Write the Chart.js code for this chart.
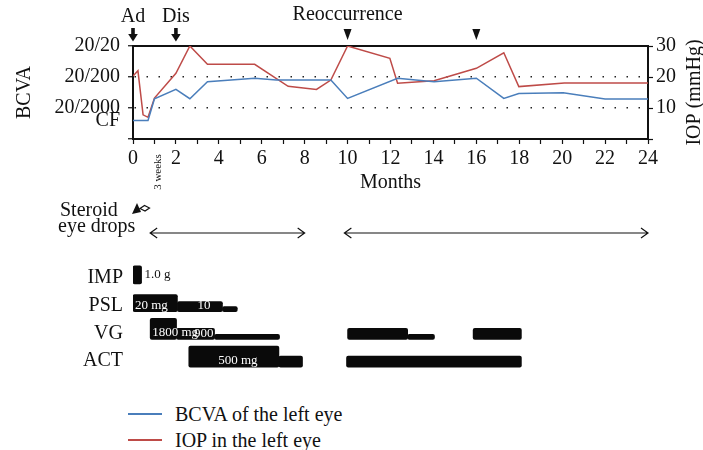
<!DOCTYPE html>
<html>
<head>
<meta charset="utf-8">
<script src="https://cdn.jsdelivr.net/npm/chart.js@4.4.0/dist/chart.umd.min.js"></script>
<style>
  body { margin: 0; background: #fff; width: 703px; height: 450px; position: relative; overflow: hidden; font-family: "Liberation Serif", serif; }
  .box { position: absolute; left: 0; width: 703px; }
  #topBox { top: 0; height: 200px; }
  #drugBox { top: 195px; height: 190px; }
  #legend { position: absolute; left: 128px; top: 401px; font-size: 20px; color: #111; }
  #legend div { height: 26px; display: flex; align-items: center; }
  #legend .line { display: inline-block; width: 34px; height: 2px; margin-right: 13px; }
</style>
</head>
<body>
<div class="box" id="topBox"><canvas id="course"></canvas></div>
<div class="box" id="drugBox"><canvas id="drugs"></canvas></div>
<div id="legend"></div>
<script>
// course after admission (months)
var bcvaMonths = [0, 0.7, 1.0, 2.0, 2.65, 3.47, 5.67, 6.68, 9.22, 10.0, 12.33, 14.03, 16.0, 17.28, 17.98, 20.05, 22.0, 24];
var bcvaValues = [6, 6, 13, 16, 13, 18.5, 19.6, 19.0, 19.0, 13.1, 19.6, 18.5, 19.6, 13.1, 14.7, 14.9, 12.9, 12.9];
var iopMonths = [0, 0.23, 0.47, 0.7, 1.0, 2.0, 2.65, 3.47, 5.67, 7.23, 8.55, 9.22, 10.0, 11.97, 12.33, 14.03, 16.0, 17.28, 17.98, 20.1, 24];
var iopValues = [20.3, 22, 7.8, 7.0, 13.2, 21.2, 30, 24.1, 24.1, 17, 16, 19, 30, 26, 18, 18.8, 22.8, 27.8, 16.9, 18.1, 18.1];

// BCVA shares the 0-30 grid of the IOP axis
var bcvaTicks = [6, 10, 20, 30];
var bcvaTickLabels = ['CF', '20/2000', '20/200', '20/20'];

var eventMonths = [0, 2];
var eventLabels = ['Ad', 'Dis'];
var relapseMonths = [10, 16];
var relapseLabel = 'Reoccurrence';
var weeksMonth = 1.1;
var steroidDrops = [[0.8, 8], [9.85, 24]];

// systemic treatment spans (months)
var drugRows = ['IMP', 'PSL', 'VG', 'ACT'];
var imp1g = [[0, 0.4]];
var psl20 = [[0, 2.07]];
var psl10 = [[2.07, 4.17]];
var psl5 = [[4.17, 4.86]];
var vg1800 = [[0.8, 2.03]];
var vg900 = [[2.03, 3.8], [10.0, 12.8], [15.85, 18.1]];
var vg450 = [[3.8, 6.83], [12.8, 14.05]];
var act500 = [[2.6, 6.8]];
var act250 = [[6.8, 7.9], [9.95, 18.1]];

Chart.defaults.font.family = '"Liberation Serif", serif';
Chart.defaults.font.size = 20;
Chart.defaults.color = '#111';

function pts(xs, ys) {
	return xs.map(function(m, i) { return {x: m, y: ys[i]}; });
}
function spans(row, list) {
	return list.map(function(s) { return {x: s, y: row}; });
}

function downArrow(ctx, x) {
	ctx.fillRect(x - 1.8, 28, 3.6, 6);
	ctx.beginPath();
	ctx.moveTo(x - 4.8, 34);
	ctx.lineTo(x + 4.8, 34);
	ctx.lineTo(x, 41.5);
	ctx.closePath();
	ctx.fill();
}

var courseMarks = {
	id: 'courseMarks',
	afterDraw: function(chart) {
		var ctx = chart.ctx, x = chart.scales.x, area = chart.chartArea;
		ctx.save();
		ctx.fillStyle = '#111';
		ctx.font = '20px "Liberation Serif"';
		ctx.textAlign = 'center';
		ctx.textBaseline = 'middle';
		eventMonths.forEach(function(m, i) {
			var px = x.getPixelForValue(m);
			ctx.fillText(eventLabels[i], px, 17);
			downArrow(ctx, px);
		});
		relapseMonths.forEach(function(m, i) {
			var px = x.getPixelForValue(m);
			if (i === 0) ctx.fillText(relapseLabel, px, 15);
			ctx.beginPath();
			ctx.moveTo(px - 4, 29);
			ctx.lineTo(px + 4, 29);
			ctx.lineTo(px, 40);
			ctx.closePath();
			ctx.fill();
		});
		// small rotated note below the axis
		ctx.save();
		ctx.translate(x.getPixelForValue(weeksMonth) + 2, 172);
		ctx.rotate(-Math.PI / 2);
		ctx.font = '11px "Liberation Serif"';
		ctx.fillText('3 weeks', 0, 0);
		ctx.restore();
		// right axis title reads bottom-up
		ctx.save();
		ctx.translate(695, (area.top + area.bottom) / 2);
		ctx.rotate(-Math.PI / 2);
		ctx.fillText('IOP (mmHg)', 0, 0);
		ctx.restore();
		ctx.restore();
	}
};

var course = new Chart(document.getElementById('course'), {
	type: 'line',
	data: {
		datasets: [
			{
				label: 'BCVA of the left eye',
				data: pts(bcvaMonths, bcvaValues),
				yAxisID: 'y',
				borderColor: '#4a7ebb',
				borderWidth: 1.5,
				pointRadius: 0,
				tension: 0
			},
			{
				label: 'IOP in the left eye',
				data: pts(iopMonths, iopValues),
				yAxisID: 'y1',
				borderColor: '#be4b48',
				borderWidth: 1.5,
				pointRadius: 0,
				tension: 0
			}
		]
	},
	options: {
		responsive: true,
		maintainAspectRatio: false,
		animation: false,
		devicePixelRatio: 1,
		layout: { padding: { top: 46, left: 0, right: 0, bottom: 0 } },
		plugins: { legend: { display: false }, tooltip: { enabled: false } },
		scales: {
			x: {
				type: 'linear', min: 0, max: 24, position: 'bottom',
				afterFit: function(s) { s.height = 61; },
				ticks: {
					stepSize: 1, autoSkip: false, maxRotation: 0, padding: 3,
					callback: function(v) { return v % 2 === 0 ? v : ''; }
				},
				grid: { drawOnChartArea: false, tickLength: 5, tickColor: '#111', tickWidth: 1.2 },
				border: { color: '#111', width: 2 },
				title: { display: true, text: 'Months', padding: { top: 0, bottom: 5 } }
			},
			xTop: {
				type: 'linear', min: 0, max: 24, position: 'top',
				afterFit: function(s) { s.height = 0; },
				ticks: { display: false },
				grid: { drawOnChartArea: false, drawTicks: false },
				border: { color: '#111', width: 2 }
			},
			y: {
				position: 'left', min: 0, max: 30,
				afterFit: function(s) { s.width = 133; },
				afterBuildTicks: function(s) {
					s.ticks = [0].concat(bcvaTicks).map(function(v) { return {value: v}; });
				},
				ticks: {
					padding: 8, autoSkip: false,
					callback: function(v) {
						var i = bcvaTicks.indexOf(v);
						return i < 0 ? '' : bcvaTickLabels[i];
					}
				},
				grid: {
					color: function(c) { return (c.tick && (c.tick.value === 10 || c.tick.value === 20)) ? '#222' : 'transparent'; },
					lineWidth: 1.5,
					tickColor: function(c) { return (c.tick && c.tick.value === 6) ? 'transparent' : '#111'; },
					tickWidth: 1.2,
					tickLength: 5
				},
				border: { color: '#111', width: 2, dash: [1.5, 10.5], dashOffset: -0.5 },
				title: { display: true, text: 'BCVA', padding: { top: 13, bottom: 0 } }
			},
			y1: {
				position: 'right', min: 0, max: 30,
				afterFit: function(s) { s.width = 55; },
				ticks: {
					stepSize: 10, padding: 3, autoSkip: false,
					callback: function(v) { return v === 0 ? '' : v; }
				},
				grid: { drawOnChartArea: false, tickLength: 5, tickColor: '#111', tickWidth: 1.2 },
				border: { color: '#111', width: 2 }
			}
		}
	},
	plugins: [courseMarks]
});

// legend under the treatment panel
var legendBox = document.getElementById('legend');
course.data.datasets.forEach(function(ds) {
	var row = document.createElement('div');
	var ln = document.createElement('span');
	ln.className = 'line';
	ln.style.background = ds.borderColor;
	row.appendChild(ln);
	row.appendChild(document.createTextNode(ds.label));
	legendBox.appendChild(row);
});

// bars sit on a common baseline in each row
var bottomAlign = {
	id: 'bottomAlign',
	afterDatasetsUpdate: function(chart) {
		chart.data.datasets.forEach(function(ds, i) {
			chart.getDatasetMeta(i).data.forEach(function(bar) {
				bar.y += (18 - bar.height) / 2;
			});
		});
	}
};

var drugMarks = {
	id: 'drugMarks',
	afterDatasetsDraw: function(chart) {
		var ctx = chart.ctx;
		ctx.save();
		chart.data.datasets.forEach(function(ds, i) {
			if (!ds.note) return;
			var bar = chart.getDatasetMeta(i).data[0];
			var left = Math.min(bar.x, bar.base), right = Math.max(bar.x, bar.base);
			var bottom = bar.y + bar.height / 2;
			ctx.font = '13px "Liberation Serif"';
			if (ds.noteAt === 'after') {
				ctx.fillStyle = '#111';
				ctx.textAlign = 'left';
				ctx.textBaseline = 'middle';
				ctx.fillText(ds.note, right + 3, bar.y);
				return;
			}
			ctx.fillStyle = '#fff';
			ctx.textBaseline = 'alphabetic';
			if (ds.noteAt === 'start') { ctx.textAlign = 'left'; ctx.fillText(ds.note, left + 2, bottom - 3); }
			else if (ds.noteAt === 'end') { ctx.textAlign = 'right'; ctx.fillText(ds.note, right - 1, bottom - 2); }
			else { ctx.textAlign = 'center'; ctx.fillText(ds.note, (left + right) / 2 + 4, bottom - 3); }
		});
		ctx.restore();
	},
	afterDraw: function(chart) {
		var ctx = chart.ctx, x = chart.scales.x;
		ctx.save();
		ctx.fillStyle = '#111';
		ctx.strokeStyle = '#111';
		ctx.font = '20px "Liberation Serif"';
		ctx.textAlign = 'left';
		ctx.textBaseline = 'alphabetic';
		ctx.fillText('Steroid', 60, 21);
		ctx.fillText('eye drops', 58, 37);
		// eye drop bottle
		var x0 = x.getPixelForValue(0);
		ctx.beginPath();
		ctx.moveTo(x0 - 1, 19);
		ctx.lineTo(x0 + 4, 8);
		ctx.lineTo(x0 + 8, 17);
		ctx.closePath();
		ctx.fill();
		ctx.lineWidth = 1.2;
		ctx.beginPath();
		ctx.moveTo(x0 + 7, 13.5);
		ctx.lineTo(x0 + 11.5, 10.5);
		ctx.lineTo(x0 + 16.5, 13);
		ctx.lineTo(x0 + 12, 16);
		ctx.closePath();
		ctx.stroke();
		// double-headed arrows for topical steroid periods
		ctx.lineWidth = 1.2;
		steroidDrops.forEach(function(s) {
			var a = x.getPixelForValue(s[0]), b = x.getPixelForValue(s[1]), y = 38;
			ctx.beginPath();
			ctx.moveTo(a, y); ctx.lineTo(b, y);
			ctx.moveTo(a + 7, y - 5); ctx.lineTo(a, y); ctx.lineTo(a + 7, y + 5);
			ctx.moveTo(b - 7, y - 5); ctx.lineTo(b, y); ctx.lineTo(b - 7, y + 5);
			ctx.stroke();
		});
		ctx.restore();
	}
};

var drugs = new Chart(document.getElementById('drugs'), {
	type: 'bar',
	data: {
		labels: drugRows,
		datasets: [
			{ label: 'IMP 1.0 g', data: spans('IMP', imp1g), barThickness: 18, note: '1.0 g', noteAt: 'after' },
			{ label: 'PSL 20 mg', data: spans('PSL', psl20), barThickness: 17, note: '20 mg', noteAt: 'start' },
			{ label: 'PSL 10 mg', data: spans('PSL', psl10), barThickness: 10, note: '10', noteAt: 'center' },
			{ label: 'PSL 5 mg', data: spans('PSL', psl5), barThickness: 5 },
			{ label: 'VG 1800 mg', data: spans('VG', vg1800), barThickness: 21, note: '1800 mg', noteAt: 'start' },
			{ label: 'VG 900 mg', data: spans('VG', vg900), barThickness: 11, note: '900', noteAt: 'end' },
			{ label: 'VG 450 mg', data: spans('VG', vg450), barThickness: 5 },
			{ label: 'ACT 500 mg', data: spans('ACT', act500), barThickness: 21, note: '500 mg', noteAt: 'center' },
			{ label: 'ACT 250 mg', data: spans('ACT', act250), barThickness: 11 }
		]
	},
	options: {
		indexAxis: 'y',
		responsive: true,
		maintainAspectRatio: false,
		animation: false,
		devicePixelRatio: 1,
		grouped: false,
		backgroundColor: '#0a0a0a',
		borderRadius: 2,
		borderSkipped: false,
		layout: { padding: { top: 66, left: 0, right: 55, bottom: 13 } },
		plugins: { legend: { display: false }, tooltip: { enabled: false } },
		scales: {
			x: { type: 'linear', min: 0, max: 24, display: false },
			y: {
				type: 'category',
				afterFit: function(s) { s.width = 133; s.paddingTop = 0; s.paddingBottom = 0; },
				ticks: { padding: 10, labelOffset: 3, color: '#111' },
				grid: { display: false, drawTicks: false },
				border: { display: false }
			}
		}
	},
	plugins: [bottomAlign, drugMarks]
});
</script>
</body>
</html>
